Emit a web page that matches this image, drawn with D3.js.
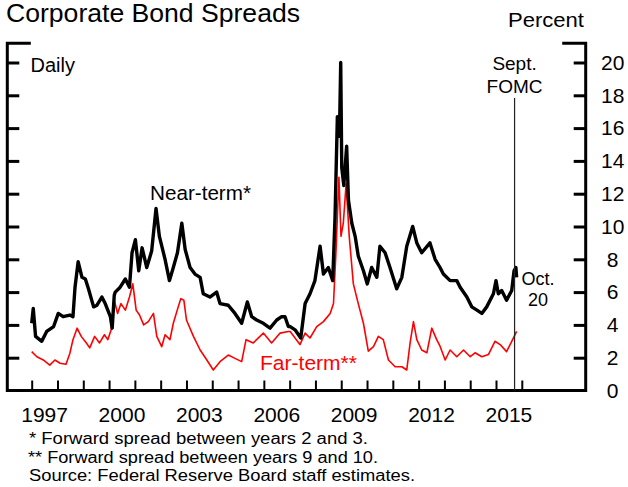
<!DOCTYPE html>
<html>
<head>
<meta charset="utf-8">
<script src="https://cdn.jsdelivr.net/npm/d3@7"></script>
<style>
  html, body { margin: 0; padding: 0; background: #fff; }
  svg { display: block; font-family: Arial, "Liberation Sans", Helvetica, sans-serif; }
</style>
</head>
<body>
<svg id="chart" width="628" height="487"></svg>
<script>
// ---- Data ----
const nearTerm = [
  [1997.00,4.1],[1997.06,5.0],[1997.15,3.3],[1997.39,3.0],[1997.58,3.6],[1997.85,3.9],
  [1998.03,4.7],[1998.22,4.5],[1998.48,4.6],[1998.60,4.5],[1998.68,6.3],[1998.80,7.85],
  [1998.95,6.9],[1999.08,6.8],[1999.20,6.2],[1999.40,5.1],[1999.53,5.2],[1999.72,5.7],
  [1999.85,5.3],[2000.05,4.5],[2000.12,3.8],[2000.20,5.8],[2000.24,6.0],[2000.43,6.3],
  [2000.63,6.8],[2000.79,6.3],[2000.89,8.4],[2001.02,9.2],[2001.15,7.3],[2001.28,8.7],
  [2001.46,7.5],[2001.65,8.5],[2001.82,11.1],[2001.95,9.4],[2002.17,8.0],[2002.34,6.7],
  [2002.49,7.5],[2002.65,8.4],[2002.82,10.2],[2002.95,8.6],[2003.14,7.5],[2003.33,7.1],
  [2003.53,6.9],[2003.65,5.9],[2003.91,5.7],[2004.17,6.0],[2004.30,5.3],[2004.62,5.2],
  [2004.88,4.7],[2005.14,4.1],[2005.36,5.4],[2005.53,4.5],[2005.72,4.3],[2005.98,4.1],
  [2006.24,3.8],[2006.50,4.3],[2006.69,4.5],[2006.82,4.5],[2006.95,3.9],[2007.02,3.9],
  [2007.21,3.7],[2007.43,3.2],[2007.60,5.3],[2007.79,5.9],[2007.98,6.7],[2008.18,8.8],
  [2008.31,7.1],[2008.50,7.5],[2008.67,6.7],[2008.76,10.6],[2008.85,16.7],[2008.93,15.5],
  [2008.98,20.0],[2009.02,13.6],[2009.10,12.5],[2009.21,14.9],[2009.28,11.6],[2009.41,10.2],
  [2009.54,9.4],[2009.66,8.2],[2009.86,7.3],[2010.01,6.5],[2010.18,7.5],[2010.38,6.9],
  [2010.50,8.8],[2010.70,8.4],[2010.89,7.5],[2011.15,6.2],[2011.35,6.9],[2011.54,8.8],
  [2011.77,10.0],[2011.93,9.0],[2012.12,8.4],[2012.44,9.0],[2012.64,8.0],[2012.83,7.5],
  [2012.96,7.1],[2013.22,6.7],[2013.48,6.7],[2013.61,6.3],[2013.87,5.7],[2014.06,5.1],
  [2014.26,4.9],[2014.45,4.7],[2014.64,5.1],[2014.90,5.9],[2015.00,6.7],[2015.09,5.9],
  [2015.22,6.1],[2015.41,5.5],[2015.61,6.1],[2015.70,7.3],[2015.77,7.5],[2015.80,6.9]
];
const farTerm = [
  [1997.00,2.37],[1997.20,2.06],[1997.45,1.86],[1997.70,1.55],[1997.90,1.86],[1998.10,1.66],
  [1998.33,1.6],[1998.48,2.27],[1998.60,3.1],[1998.76,3.8],[1998.92,3.3],[1999.12,2.9],
  [1999.25,2.6],[1999.44,3.3],[1999.63,2.9],[1999.82,3.4],[1999.95,3.1],[2000.08,3.7],
  [2000.20,5.5],[2000.33,4.7],[2000.46,5.3],[2000.63,4.9],[2000.79,5.7],[2000.92,6.5],
  [2001.05,4.9],[2001.18,4.6],[2001.34,4.0],[2001.52,4.2],[2001.72,4.7],[2001.85,3.3],
  [2002.04,2.67],[2002.17,3.4],[2002.36,3.1],[2002.49,4.1],[2002.68,5.1],[2002.78,5.6],
  [2002.90,5.5],[2003.00,4.3],[2003.27,3.3],[2003.53,2.47],[2003.79,1.86],[2004.04,1.25],
  [2004.30,1.76],[2004.62,2.16],[2004.88,1.96],[2005.14,1.76],[2005.31,3.1],[2005.59,2.9],
  [2005.98,3.5],[2006.30,2.9],[2006.63,3.5],[2006.95,3.6],[2007.02,3.6],[2007.40,2.8],
  [2007.60,3.5],[2007.79,3.2],[2008.05,3.9],[2008.31,4.2],[2008.57,4.7],[2008.70,5.3],
  [2008.80,8.6],[2008.91,13.0],[2008.99,9.4],[2009.08,10.2],[2009.19,12.6],[2009.31,9.4],
  [2009.47,6.5],[2009.66,5.3],[2009.86,4.1],[2010.05,2.4],[2010.25,2.67],[2010.44,3.3],
  [2010.63,3.1],[2010.83,1.86],[2011.09,1.45],[2011.35,1.45],[2011.54,1.25],[2011.67,2.9],
  [2011.80,4.2],[2011.93,3.1],[2012.12,2.47],[2012.32,2.3],[2012.51,3.8],[2012.70,3.1],
  [2012.83,2.7],[2013.03,1.86],[2013.22,2.47],[2013.48,2.06],[2013.74,2.47],[2014.00,2.06],
  [2014.19,2.3],[2014.45,2.06],[2014.71,2.2],[2014.96,3.0],[2015.16,2.8],[2015.41,2.37],
  [2015.61,3.0],[2015.80,3.6]
];
const yTickValues = [0, 2, 4, 6, 8, 10, 12, 14, 16, 18, 20];
const xTickYears = [1997,1998,1999,2000,2001,2002,2003,2004,2005,2006,2007,2008,2009,2010,2011,2012,2013,2014,2015,2016];
const xLabelYears = [1997, 2000, 2003, 2006, 2009, 2012, 2015];
const fomcDate = 2015.72;
const footnotes = [
  "* Forward spread between years 2 and 3.",
  "** Forward spread between years 9 and 10.",
  "Source: Federal Reserve Board staff estimates."
];

// ---- Layout ----
const L = 7.3, R = 585.7, T = 43.3, B = 390.5;
const svg = d3.select("#chart");

const x = d3.scaleLinear().domain([1997, 2015]).range([31.7, 496]);
const y = d3.scaleLinear().domain([0, 20]).range([B, 62.5]);

// Title and unit
svg.append("text").attr("x", 6).attr("y", 21.5)
  .attr("font-size", 25).attr("textLength", 294).attr("lengthAdjust", "spacingAndGlyphs")
  .text("Corporate Bond Spreads");
svg.append("text").attr("x", 584).attr("y", 26.7).attr("text-anchor", "end")
  .attr("font-size", 21).attr("textLength", 76).attr("lengthAdjust", "spacingAndGlyphs")
  .text("Percent");

// Frame
const frame = svg.append("g").attr("stroke", "#000").attr("stroke-width", 3).attr("fill", "none")
  .attr("stroke-linecap", "square");
frame.append("path").attr("d", `M${L + 22},${T}H${L}V${B}H${R}V${T}H${R - 22}`);

// Left axis ticks (inward)
const leftAxis = d3.axisLeft(y).tickValues(yTickValues.filter(v => v > 0))
  .tickSize(-12).tickSizeOuter(0).tickFormat("");
const gl = svg.append("g").attr("transform", `translate(${L},0)`).call(leftAxis);
gl.select(".domain").remove();
gl.selectAll(".tick line").attr("stroke-width", 3);

// Right axis ticks (inward) and labels
const rightAxis = d3.axisRight(y).tickValues(yTickValues)
  .tickSize(-12).tickSizeOuter(0).tickPadding(27).tickFormat(d3.format("d"));
const gr = svg.append("g").attr("transform", `translate(${R},0)`).call(rightAxis);
gr.select(".domain").remove();
gr.selectAll(".tick line").attr("stroke-width", 3).filter(d => d === 0).remove();
gr.selectAll(".tick text").attr("text-anchor", "middle").attr("font-size", 21)
  .attr("font-family", "Arial, 'Liberation Sans', sans-serif").attr("fill", "#000");

// Bottom axis ticks (upward)
const bottomAxis = d3.axisBottom(x).tickValues(xTickYears).tickSize(-10).tickSizeOuter(0).tickFormat("");
const gb = svg.append("g").attr("transform", `translate(0,${B})`).call(bottomAxis);
gb.select(".domain").remove();
gb.selectAll(".tick line").attr("stroke-width", 2);

// Year labels centered at mid-year
svg.append("g").selectAll("text").data(xLabelYears).join("text")
  .attr("x", d => x(d + 0.5)).attr("y", 422).attr("text-anchor", "middle")
  .attr("font-size", 21).text(d => d);

// Series
const line = d3.line().x(d => x(d[0])).y(d => y(d[1]));
svg.append("path").datum(farTerm).attr("d", line).attr("fill", "none")
  .attr("stroke", "#ff0000").attr("stroke-width", 1.6).attr("stroke-linejoin", "round");
svg.append("path").datum(nearTerm).attr("d", line).attr("fill", "none")
  .attr("stroke", "#000").attr("stroke-width", 3.4).attr("stroke-linejoin", "round");

// FOMC marker
svg.append("line").attr("x1", x(fomcDate)).attr("x2", x(fomcDate))
  .attr("y1", 98).attr("y2", B).attr("stroke", "#222").attr("stroke-width", 1.2);
svg.append("text").attr("x", x(fomcDate)).attr("y", 70).attr("text-anchor", "middle")
  .attr("font-size", 19).text("Sept.");
svg.append("text").attr("x", x(fomcDate)).attr("y", 92.7).attr("text-anchor", "middle")
  .attr("font-size", 19).text("FOMC");
svg.append("text").attr("x", 538).attr("y", 285).attr("text-anchor", "middle")
  .attr("font-size", 18).text("Oct.");
svg.append("text").attr("x", 538).attr("y", 306).attr("text-anchor", "middle")
  .attr("font-size", 18).text("20");

// Series labels
svg.append("text").attr("x", 30.5).attr("y", 71.7).attr("font-size", 20).text("Daily");
svg.append("text").attr("x", 150).attr("y", 200).attr("font-size", 20.5)
  .attr("textLength", 101).attr("lengthAdjust", "spacingAndGlyphs").text("Near-term*");
svg.append("text").attr("x", 260).attr("y", 370).attr("font-size", 20.5).attr("fill", "#ff0000")
  .attr("textLength", 97).attr("lengthAdjust", "spacingAndGlyphs").text("Far-term**");

// Footnotes
const fnX = [29, 28, 29], fnY = [444, 462.5, 481], fnW = [339, 350, 386];
svg.append("g").selectAll("text").data(footnotes).join("text")
  .attr("x", (d, i) => fnX[i]).attr("y", (d, i) => fnY[i])
  .attr("font-size", 16).attr("textLength", (d, i) => fnW[i]).attr("lengthAdjust", "spacingAndGlyphs")
  .text(d => d);
</script>
</body>
</html>
